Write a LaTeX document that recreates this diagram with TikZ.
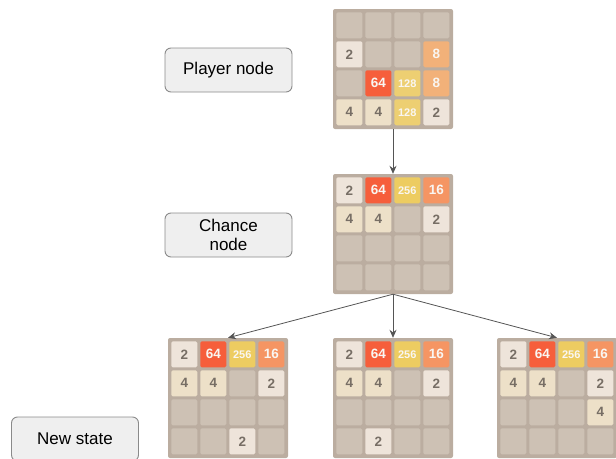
\documentclass[tikz,border=0pt]{standalone}
\usepackage{fontspec}
\setmainfont{Liberation Sans}
\usepackage{tikz}
\usetikzlibrary{arrows.meta,calc,positioning}

\definecolor{boardbg}{HTML}{BBADA0}
\definecolor{tile0}{HTML}{CDC1B4}
\definecolor{tile2}{HTML}{EEE4DA}
\definecolor{tile4}{HTML}{EDE0C8}
\definecolor{tile8}{HTML}{F2B179}
\definecolor{tile16}{HTML}{F59563}
\definecolor{tile64}{HTML}{F65E3B}
\definecolor{tile128}{HTML}{EDCF72}
\definecolor{tile256}{HTML}{EDCC61}
\definecolor{darktext}{HTML}{776E65}
\definecolor{lighttext}{HTML}{F9F6F2}
\definecolor{boxfill}{HTML}{EFEFEF}
\definecolor{boxline}{HTML}{8A8A8A}
\definecolor{arrowgrey}{HTML}{555555}

\tikzset{
  labelbox/.style={draw=boxline, fill=boxfill, rounded corners=6pt, line width=0.9pt,
    minimum width=127pt, minimum height=44pt, align=center, inner sep=0pt,
    font=\fontsize{17}{19.5}\selectfont},
  board/.style={fill=boardbg, rounded corners=2pt, minimum size=120pt, inner sep=0pt},
  tile/.style={rounded corners=1.5pt, minimum size=26pt, inner sep=0pt,
    font=\bfseries\fontsize{13.5}{14}\selectfont},
  t0/.style={tile, fill=tile0},
  t2/.style={tile, fill=tile2, text=darktext},
  t4/.style={tile, fill=tile4, text=darktext},
  t8/.style={tile, fill=tile8, text=lighttext},
  t16/.style={tile, fill=tile16, text=lighttext},
  t64/.style={tile, fill=tile64, text=lighttext},
  t128/.style={tile, fill=tile128, text=lighttext, font=\bfseries\fontsize{11}{12}\selectfont},
  t256/.style={tile, fill=tile256, text=lighttext, font=\bfseries\fontsize{11}{12}\selectfont},
  link/.style={->, >={Stealth[length=8pt, width=7pt]}, draw=arrowgrey, line width=0.8pt},
}

% board: name, x, y, sixteen tiles row by row (0 = empty)
\newcommand{\gameboard}[4]{%
  \node[board] (#1) at (#2,#3) {};
  \foreach \v [count=\k from 0] in {#4} {
    \pgfmathtruncatemacro{\col}{mod(\k,4)}
    \pgfmathtruncatemacro{\row}{div(\k,4)}
    \node[t\v] (#1-\k) at ($(#1.north west)+(16.5+29*\col,16.5+29*\row)$) {\ifnum\v=0 \else\v\fi};
  }
}

\begin{document}
\begin{tikzpicture}[x=1pt, y=-1pt]
    \useasboundingbox (0,0) rectangle (616,458);

    \node[labelbox] (player) at (228.5,70) {Player node};
    \node[labelbox] (chance) at (228.5,235) {Chance\\node};
    \node[labelbox] (new) at (75,439) {New state};

    \gameboard{top}{393}{69}{0,0,0,0, 2,0,0,8, 0,64,128,8, 4,4,128,2}
    \gameboard{mid}{393}{234}{2,64,256,16, 4,4,0,2, 0,0,0,0, 0,0,0,0}
    \gameboard{left}{228}{398}{2,64,256,16, 4,4,0,2, 0,0,0,0, 0,0,2,0}
    \gameboard{centre}{393}{398}{2,64,256,16, 4,4,0,2, 0,0,0,0, 0,2,0,0}
    \gameboard{right}{557}{398}{2,64,256,16, 4,4,0,2, 0,0,0,4, 0,0,0,0}

    \draw[link] (top.south) -- (mid.north);
    \draw[link] (mid.south) -- (left.north);
    \draw[link] (mid.south) -- (centre.north);
    \draw[link] (mid.south) -- (right.north);
\end{tikzpicture}
\end{document}
